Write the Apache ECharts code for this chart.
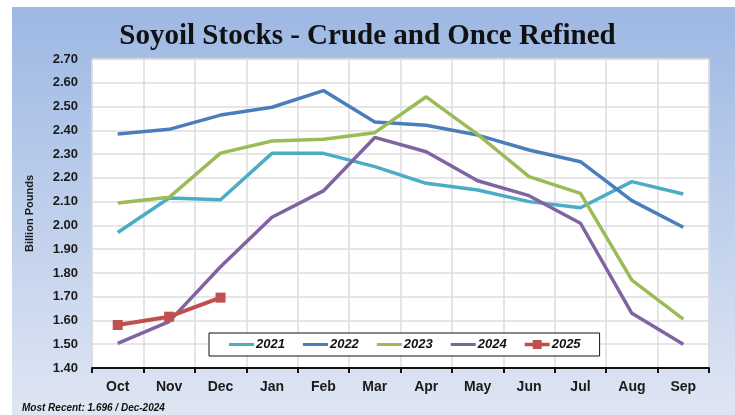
<!DOCTYPE html>
<html><head><meta charset="utf-8">
<script src="https://cdn.jsdelivr.net/npm/echarts@6/dist/echarts.min.js"></script>
<style>html,body{margin:0;padding:0;background:#fff;}#c{width:735px;height:415px;}</style>
</head><body><div id="c"></div>
<script>
const categories = ['Oct','Nov','Dec','Jan','Feb','Mar','Apr','May','Jun','Jul','Aug','Sep'];
const yTicks = [1.40,1.50,1.60,1.70,1.80,1.90,2.00,2.10,2.20,2.30,2.40,2.50,2.60,2.70];
const s2021 = [1.97,2.115,2.108,2.303,2.303,2.247,2.177,2.149,2.10,2.074,2.184,2.132];
const s2022 = [2.384,2.404,2.464,2.497,2.567,2.435,2.421,2.38,2.317,2.268,2.104,1.992];
const s2023 = [2.094,2.118,2.304,2.355,2.362,2.39,2.541,2.383,2.205,2.135,1.77,1.606];
const s2024 = [1.504,1.595,1.826,2.034,2.145,2.37,2.31,2.188,2.125,2.009,1.63,1.50];
const s2025 = [1.581,1.616,1.696];
const seriesNames = ['2021','2022','2023','2024','2025'];
const colors = ['#4bacc6','#4a7ebb','#9bbb59','#8064a2','#c0504d'];
const footer = 'Most Recent: 1.696 / Dec-2024';

const lineIcon = 'path://M0,0L0.01,0L0,0.01Z M25,10L24.99,10L25,9.99Z M0,3.4H25V6.6H0Z';
const markIcon = 'path://M0,0L0.01,0L0,0.01Z M25,10L24.99,10L25,9.99Z M0,3.3H25V6.7H0Z M8,0.5H17V9.5H8Z';

const chart = echarts.init(document.getElementById('c'), null, {renderer:'canvas'});
const data = [s2021,s2022,s2023,s2024,s2025];
const series = data.map((d,i)=>({
  name: seriesNames[i], type:'line', data:d,
  symbol: i===4 ? 'rect' : 'none', symbolSize: 10,
  lineStyle:{width: i===4?4:3.5, color: colors[i]},
  itemStyle:{color: colors[i]},
  z: i===4 ? 10 : 5
}));
chart.setOption({
  animation:false,
  graphic:[
    {type:'rect', left:12, top:7, shape:{width:723, height:408}, z:-10,
     style:{fill:new echarts.graphic.LinearGradient(0,0,0,1,[{offset:0,color:'#9db8e4'},{offset:1,color:'#dfe6f3'}])}},
    {type:'text', left:22, top:403, style:{text:footer, font:'italic bold 10px "Liberation Sans", Arial', fill:'#111'}}
  ],
  title:{text:'Soyoil Stocks - Crude and Once Refined', left:'center', top:17,
    textStyle:{fontFamily:'"Liberation Serif", serif', fontWeight:'bold', fontSize:29, color:'#111'}},
  grid:{left:92, right:26, top:59, bottom:47, show:true, backgroundColor:'#fff', borderColor:'#c8c8c8', borderWidth:1},
  legend:{data:seriesNames.map((n,i)=>({name:n, icon: i===4 ? markIcon : lineIcon})),
    left:209, top:333, orient:'horizontal',
    itemWidth:25, itemHeight:10, itemGap:18, padding:[5,19,5,20],
    backgroundColor:'#fff', borderColor:'#111', borderWidth:1,
    textStyle:{fontFamily:'"Liberation Sans", Arial', fontWeight:'bold', fontStyle:'italic', fontSize:13, color:'#111', padding:[0,0,0,-3]}},
  xAxis:{type:'category', data:categories, boundaryGap:true,
    axisLine:{show:true, lineStyle:{color:'#111', width:2}},
    axisTick:{show:true, length:5, lineStyle:{color:'#111', width:2}},
    axisLabel:{margin:12, fontFamily:'"Liberation Sans", Arial', fontWeight:'bold', fontSize:14, color:'#1a1a1a'},
    splitLine:{show:true, lineStyle:{color:'#dcdcdc', width:1.5}}},
  yAxis:{type:'value', min:yTicks[0], max:yTicks[yTicks.length-1], interval:0.1,
    name:'Billion Pounds', nameLocation:'middle', nameGap:57, nameRotate:90,
    nameTextStyle:{fontFamily:'"Liberation Sans", Arial', fontWeight:'bold', fontSize:11, color:'#1a1a1a'},
    axisLine:{show:false}, axisTick:{show:false},
    axisLabel:{margin:14, formatter:v=>v.toFixed(2), fontFamily:'"Liberation Sans", Arial', fontWeight:'bold', fontSize:13, color:'#1a1a1a'},
    splitLine:{show:true, lineStyle:{color:'#dcdcdc', width:1.5}}},
  series: series
});
</script></body></html>
